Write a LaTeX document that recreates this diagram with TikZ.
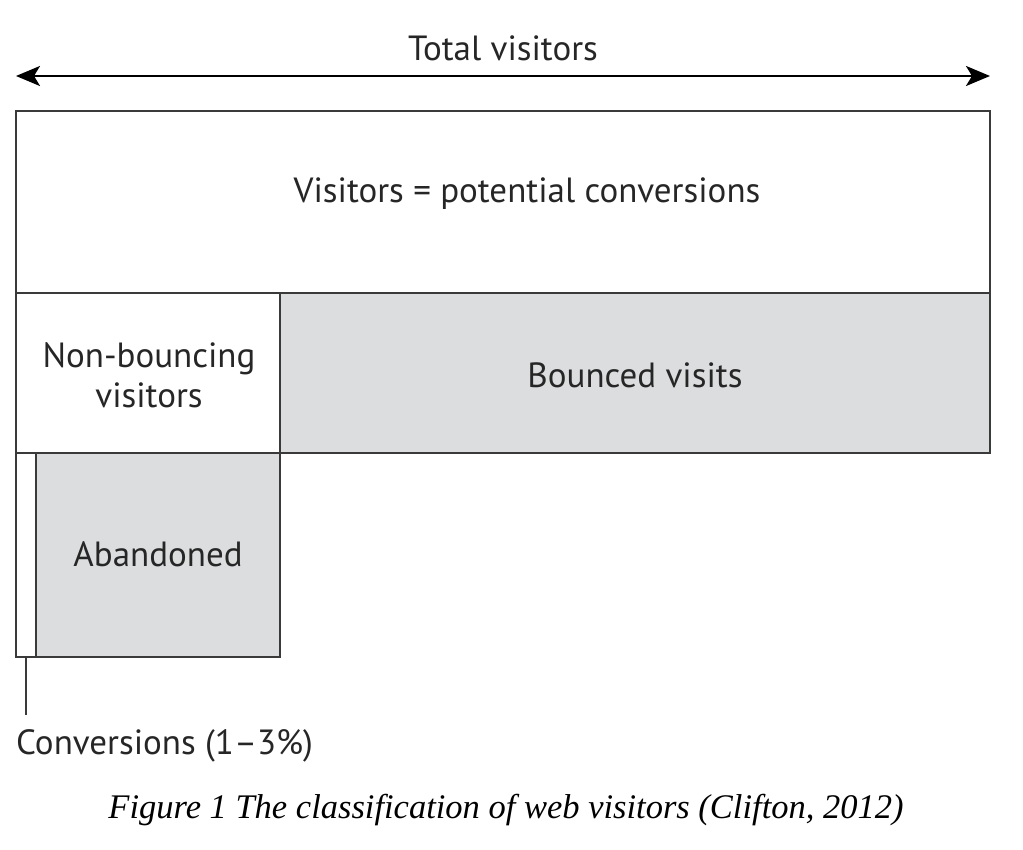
\documentclass[tikz,border=0pt]{standalone}
\usepackage{fontspec}
\setmainfont{PT Sans}
\newfontfamily\capfont{Liberation Serif}
\usetikzlibrary{arrows.meta}
\definecolor{boxgray}{HTML}{DCDDDF}
\definecolor{edgegray}{HTML}{3A3A3A}
\tikzset{
  box/.style={draw=edgegray, line width=2pt},
  graybox/.style={box, fill=boxgray},
  lbl/.style={font=\fontsize{35}{40}\selectfont, align=center, text=black!85},
}
\begin{document}
\begin{tikzpicture}[x=1pt,y=-1pt]
\useasboundingbox (0,0) rectangle (1023,850);
% top box
\draw[box] (16,111) rectangle (990,293);
\node[lbl] (pot) at (527,194) {Visitors = potential conversions};
% second row
\draw[box] (16,293) rectangle (280,453);
\draw[graybox] (280,293) rectangle (990,453);
\node[lbl] (nonb) at (149,375) {Non-bouncing\\visitors};
\node[lbl] (bounced) at (635,375) {Bounced visits};
% third row
\draw[box] (16,453) rectangle (36,657);
\draw[graybox] (36,453) rectangle (280,657);
\node[lbl] (aband) at (158,554) {Abandoned};
% conversion pointer
\coordinate (cstart) at (26,657);
\coordinate (cend) at (26,715);
\draw[edgegray, line width=2pt] (cstart) -- (cend);
\node[lbl, anchor=west, inner sep=0pt] (conv) at (16,746) {Conversions (1–3\%)};
% total visitors arrow
\coordinate (al) at (16,76);
\coordinate (ar) at (990,76);
\draw[line width=2.5pt, {Stealth[length=24pt,width=20pt,inset=6pt]}-{Stealth[length=24pt,width=20pt,inset=6pt]}] (al) -- (ar);
\node[lbl] (total) at (503,48) {Total visitors};
% caption
\node[font=\capfont\itshape\fontsize{34.5}{38}\selectfont] (cap) at (506,810) {Figure 1 The classification of web visitors (Clifton, 2012)};
\end{tikzpicture}
\end{document}
